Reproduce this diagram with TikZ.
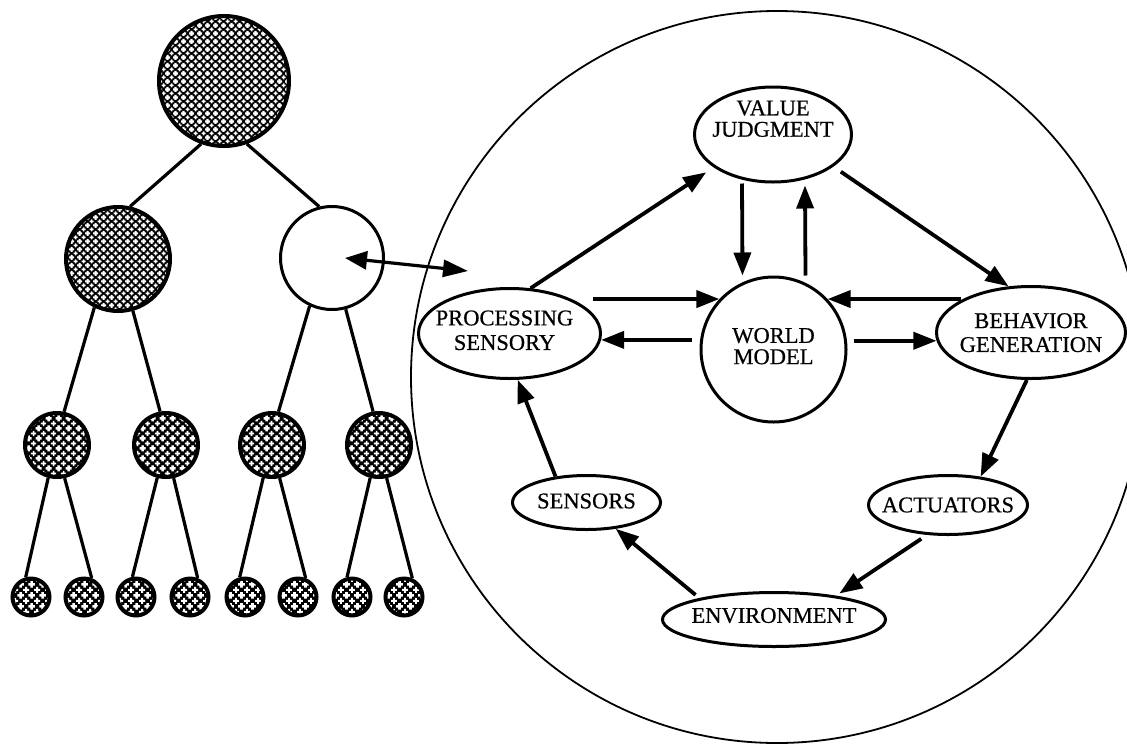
\documentclass[tikz,border=0pt]{standalone}
\usepackage{fontspec}
\setmainfont{Liberation Serif}[FakeBold=0.6]
\usetikzlibrary{arrows.meta,shapes.geometric,patterns}

% one white plus, centred at (#1,#2), half arm #3, half thickness #4
\newcommand\plusat[4]{%
  \pgfpathrectangle{\pgfpoint{#1-#3}{#2-#4}}{\pgfpoint{2*#3}{2*#4}}%
  \pgfpathrectangle{\pgfpoint{#1-#4}{#2-#3}}{\pgfpoint{2*#4}{2*#3}}}
% diagonal lattice of pluses: name, tile, half arm, half thickness
\newcommand\declplus[4]{%
  \pgfdeclarepatternformonly{#1}{\pgfpointorigin}{\pgfqpoint{#2}{#2}}{\pgfqpoint{#2}{#2}}{%
    \plusat{0pt}{0pt}{#3}{#4}\plusat{#2}{0pt}{#3}{#4}%
    \plusat{0pt}{#2}{#3}{#4}\plusat{#2}{#2}{#3}{#4}%
    \plusat{0.5*#2}{0.5*#2}{#3}{#4}\pgfusepath{fill}}}
\declplus{plusbig}{8pt}{2.3pt}{0.75pt}
\declplus{plusmid}{9.5pt}{2.7pt}{0.85pt}
\declplus{plussmall}{10.5pt}{3.0pt}{0.95pt}

% text block of a node, lifted by #1, row stretch #2
\newcommand\ctext[3]{\makebox[0pt]{\raisebox{#1}[0pt][0pt]{\def\arraystretch{#2}\begin{tabular}{@{}c@{}}#3\end{tabular}}}}

\tikzset{
  hatchnode/.style={circle, draw, line width=4pt, inner sep=0pt,
    preaction={fill=black}, preaction={pattern=#1, pattern color=white}},
  whitenode/.style={circle, draw, line width=3pt, inner sep=0pt},
  treeline/.style={line width=3.2pt},
  oval/.style={ellipse, draw, line width=3pt, inner sep=0pt,
    font=\fontsize{22.5}{23}\selectfont},
  roundbox/.style={circle, draw, line width=3pt, inner sep=0pt,
    font=\fontsize{22.5}{23}\selectfont},
  arr/.style={line width=3.8pt, -{Triangle[length=23pt,width=17pt]}},
  dbl/.style={line width=3.2pt, {Triangle[length=22pt,width=18pt]}-{Triangle[length=25pt,width=17pt]}},
  outer/.style={line width=1.8pt}
}

\begin{document}
\begin{tikzpicture}[x=1pt,y=-1pt]
\useasboundingbox (0,0) rectangle (1127,753);
\clip (0,0) rectangle (1127,753);

% ---------- hierarchy tree ----------
\node[hatchnode=plusbig, minimum size=130pt] (r) at (224,81) {};
\node[hatchnode=plusbig, minimum size=104pt] (a) at (118,259) {};
\node[whitenode, minimum size=103pt] (b) at (332,258) {};

\node[hatchnode=plusmid, minimum size=64pt] (c1) at (57,445) {};
\node[hatchnode=plusmid, minimum size=64pt] (c2) at (166,445) {};
\node[hatchnode=plusmid, minimum size=64pt] (c3) at (272,445) {};
\node[hatchnode=plusmid, minimum size=64pt] (c4) at (379,445) {};

\node[hatchnode=plussmall, minimum size=37pt] (l1) at (31,597) {};
\node[hatchnode=plussmall, minimum size=37pt] (l2) at (84,597) {};
\node[hatchnode=plussmall, minimum size=37pt] (l3) at (136,597) {};
\node[hatchnode=plussmall, minimum size=37pt] (l4) at (190,597) {};
\node[hatchnode=plussmall, minimum size=37pt] (l5) at (245,597) {};
\node[hatchnode=plussmall, minimum size=37pt] (l6) at (298,597) {};
\node[hatchnode=plussmall, minimum size=37pt] (l7) at (352,597) {};
\node[hatchnode=plussmall, minimum size=37pt] (l8) at (404,597) {};

\draw[treeline] (r.250) -- (a.77);
\draw[treeline] (r.290) -- (b.104);
\draw[treeline] (a.244) -- (c1.78);
\draw[treeline] (a.286) -- (c2.100);
\draw[treeline] (b.245) -- (c3.79);
\draw[treeline] (b.285) -- (c4.100);
\draw[treeline] (c1.255) -- (l1.105);
\draw[treeline] (c1.283) -- (l2.68);
\draw[treeline] (c2.255) -- (l3.100);
\draw[treeline] (c2.283) -- (l4.68);
\draw[treeline] (c3.255) -- (l5.105);
\draw[treeline] (c3.283) -- (l6.68);
\draw[treeline] (c4.255) -- (l7.104);
\draw[treeline] (c4.283) -- (l8.66);

% ---------- expanded node ----------
\draw[outer] (777,377) circle[radius=366pt];

\node[oval, minimum width=157pt, minimum height=95pt] (vj) at (773,134.5)
  {\ctext{7.6pt}{0.93}{VALUE\\JUDGMENT}};
\node[roundbox, minimum size=145pt] (wm) at (773.5,349.5)
  {\ctext{-4.9pt}{0.92}{WORLD\\MODEL}};
\node[oval, minimum width=182pt, minimum height=90pt] (ps) at (509.5,333.5)
  {\hspace*{-10pt}\ctext{-4.4pt}{1.07}{PROCESSING\\SENSORY}};
\node[oval, minimum width=189pt, minimum height=92pt] (bg) at (1031,332.5)
  {\ctext{-7.9pt}{1.04}{BEHAVIOR\\GENERATION}};
\node[oval, minimum width=148pt, minimum height=54pt] (se) at (586.5,502.5)
  {\ctext{-6.4pt}{1}{SENSORS}};
\node[oval, minimum width=159pt, minimum height=59pt] (ac) at (948,505)
  {\ctext{-7.9pt}{1}{ACTUATORS}};
\node[oval, minimum width=223pt, minimum height=54pt] (en) at (774,619.5)
  {\ctext{-3.9pt}{1}{ENVIRONMENT}};

\draw[arr, shorten >=9pt] (ps.65) -- (vj.209);
\draw[arr] ([xshift=-31pt]vj.south) -- ([xshift=-31pt]wm.north);
\draw[arr] ([xshift=32pt]wm.north) -- ([xshift=32pt,yshift=-2pt]vj.south);
\draw[arr, shorten <=9pt] (vj.332) -- (bg.116);
\draw[arr] ([xshift=-9pt]ps.east |- wm.137) -- (wm.137);
\draw[arr] ([xshift=-8pt]wm.west |- ps.-4) -- (ps.-4);
\draw[arr] (bg.155 |- wm.43) -- (wm.43);
\draw[arr] ([xshift=6pt]wm.east |- bg.185) -- (bg.185);
\draw[arr] (bg.265) -- (ac.41);
\draw[arr, shorten <=7pt, shorten >=4pt] (ac.235) -- (en.21);
\draw[arr, shorten <=5pt] (en.164) -- (se.318);
\draw[arr] (se.140) -- (ps.280);

% link between the tree node and its expansion
\coordinate (da2) at (468,271);
\draw[dbl] ([xshift=13pt]b.center) -- (da2);
\end{tikzpicture}
\end{document}
